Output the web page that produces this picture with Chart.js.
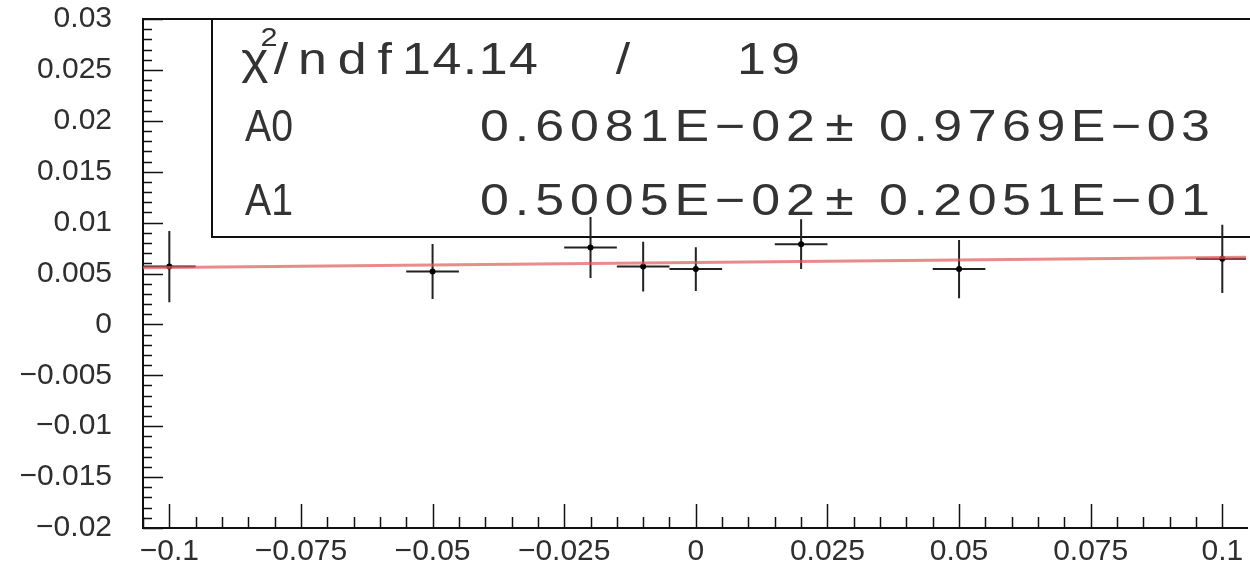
<!DOCTYPE html>
<html>
<head>
<meta charset="utf-8">
<script src="https://cdn.jsdelivr.net/npm/chart.js@4.4.1/dist/chart.umd.min.js"></script>
<style>
  html, body { margin: 0; padding: 0; background: #fff; }
</style>
</head>
<body>
<canvas id="fitChart" width="1250" height="571"></canvas>
<script>
// measured points (x, y) with errors
const xVals = [-0.1, -0.05, -0.02, -0.01, 0, 0.02, 0.05, 0.1];
const yVals = [0.00568, 0.00519, 0.00755, 0.00568, 0.00543, 0.00788, 0.00543, 0.00644];
const xErrs = [0.005, 0.005, 0.005, 0.005, 0.005, 0.005, 0.005, 0.005];
const yErrs = [0.0035, 0.0027, 0.0030, 0.00245, 0.00215, 0.00245, 0.00285, 0.00335];

// axis ticks
const xTicks = [-0.1, -0.075, -0.05, -0.025, 0, 0.025, 0.05, 0.075, 0.1];
const yTicks = [-0.02, -0.015, -0.01, -0.005, 0, 0.005, 0.01, 0.015, 0.02, 0.025, 0.03];
const xRange = [-0.105, 0.1045];
const yRange = [-0.02, 0.03];

// fit result (pol1)
const fitA0 = 0.6081e-2, fitA0err = 0.9769e-3;
const fitA1 = 0.5005e-2, fitA1err = 0.2051e-1;
const chi2 = '14.14', ndf = '19';
const parNames = ['A0', 'A1'];
const parVals = ['0.6081E\u221202', '0.5005E\u221202'];
const parErrs = ['0.9769E\u221203', '0.2051E\u221201'];

const fmt = v => String(Number(v.toFixed(4))).replace('-', '\u2212');

const points = xVals.map((x, i) => ({x: x, y: yVals[i]}));
const fitLine = xRange.map(x => ({x: x, y: fitA0 + fitA1 * x}));

// draws txt from x0 to x1: glyphs widened a bit, the rest goes into spacing
function spreadText(ctx, txt, x0, x1, base, sx = 1.18) {
  const chars = [...txt];
  const widths = chars.map(c => ctx.measureText(c).width);
  const total = widths.reduce((s, w) => s + w, 0) * sx;
  let gap = chars.length > 1 ? (x1 - x0 - total) / (chars.length - 1) : 0;
  if (gap < 0) { sx = sx * (x1 - x0) / total; gap = 0; }
  let cx = chars.length === 1 ? (x0 + x1 - total) / 2 : x0;
  chars.forEach((c, i) => {
    ctx.save();
    ctx.translate(cx, base);
    ctx.scale(sx, 1);
    ctx.fillText(c, 0, 0);
    ctx.restore();
    cx += widths[i] * sx + gap;
  });
}

const rootFrame = {
  id: 'rootFrame',
  beforeDatasetsDraw(chart) {
    const {ctx, chartArea: a, scales: {x, y}} = chart;
    ctx.save();
    ctx.strokeStyle = '#111';
    ctx.lineWidth = 2;

    // stats box
    ctx.strokeRect(212, a.top, 1100, 237 - a.top);
    ctx.fillStyle = '#333';
    ctx.textBaseline = 'alphabetic';
    ctx.font = '44px "Liberation Sans", Arial, sans-serif';
    spreadText(ctx, '\u03c7', 244, 266, 74);
    spreadText(ctx, '/', 270, 292, 74);
    spreadText(ctx, 'ndf', 298, 392, 74);
    spreadText(ctx, chi2, 402, 538, 74);
    spreadText(ctx, '/', 612, 634, 74);
    spreadText(ctx, ndf, 737, 800, 74);
    [141, 215].forEach((base, i) => {
      spreadText(ctx, parNames[i], 245, 293, base);
      spreadText(ctx, parVals[i], 480, 815, base);
      spreadText(ctx, '\u00b1', 822, 857, base);
      spreadText(ctx, parErrs[i], 879, 1210, base);
    });
    ctx.font = '26px "Liberation Sans", Arial, sans-serif';
    spreadText(ctx, '2', 262, 276, 46);

    // frame
    ctx.beginPath();
    ctx.moveTo(a.right + 2, a.top);
    ctx.lineTo(a.left, a.top);
    ctx.lineTo(a.left, a.bottom);
    ctx.lineTo(a.right + 2, a.bottom);
    ctx.stroke();

    // ticks pointing inward
    ctx.lineWidth = 1.5;
    ctx.beginPath();
    for (let k = -20; k <= 30; k++) {
      const py = Math.round(y.getPixelForValue(k * 0.001)) + 0.5;
      const len = k % 5 === 0 ? 20 : 9;
      ctx.moveTo(a.left, py);
      ctx.lineTo(a.left + len, py);
    }
    for (let k = -21; k <= 20; k++) {
      const px = Math.round(x.getPixelForValue(k * 0.005)) + 0.5;
      const len = k % 5 === 0 ? 24 : 11;
      ctx.moveTo(px, a.bottom);
      ctx.lineTo(px, a.bottom - len);
    }
    ctx.stroke();

    // error bars
    ctx.beginPath();
    ctx.rect(a.left, a.top - 30, a.right - a.left, a.bottom - a.top + 30);
    ctx.clip();
    ctx.strokeStyle = '#222';
    ctx.lineWidth = 2;
    ctx.beginPath();
    xVals.forEach((xv, i) => {
      const px = x.getPixelForValue(xv), py = y.getPixelForValue(yVals[i]);
      ctx.moveTo(x.getPixelForValue(xv - xErrs[i]), py);
      ctx.lineTo(x.getPixelForValue(xv + xErrs[i]), py);
      ctx.moveTo(px, y.getPixelForValue(yVals[i] + yErrs[i]));
      ctx.lineTo(px, y.getPixelForValue(yVals[i] - yErrs[i]));
    });
    ctx.stroke();
    ctx.restore();
  }
};

const noPad = s => { s.paddingTop = 0; s.paddingBottom = 0; s.paddingLeft = 0; s.paddingRight = 0; };

new Chart(document.getElementById('fitChart'), {
  type: 'scatter',
  data: {
    datasets: [
      {
        label: 'data',
        data: points,
        pointRadius: 3,
        pointBackgroundColor: '#000',
        pointBorderWidth: 0,
        order: 2
      },
      {
        label: 'pol1 fit',
        data: fitLine,
        showLine: true,
        borderColor: 'rgba(222, 90, 90, 0.7)',
        borderWidth: 3,
        pointRadius: 0,
        order: 1
      }
    ]
  },
  options: {
    responsive: false,
    animation: false,
    devicePixelRatio: 1,
    layout: { padding: { top: 19, left: 0, right: 0, bottom: 0 } },
    plugins: { legend: { display: false }, tooltip: { enabled: false } },
    scales: {
      x: {
        type: 'linear',
        min: xRange[0],
        max: xRange[1],
        grid: { display: false, drawTicks: false },
        border: { display: false },
        afterBuildTicks: s => { s.ticks = xTicks.map(v => ({value: v})); },
        afterFit: s => { s.height = 43; noPad(s); },
        ticks: {
          padding: 6,
          autoSkip: false,
          maxRotation: 0,
          color: '#2e2e2e',
          font: { family: '"Liberation Sans", Arial, sans-serif', size: 30 },
          callback: v => fmt(v)
        }
      },
      y: {
        min: yRange[0],
        max: yRange[1],
        grid: { display: false, drawTicks: false },
        border: { display: false },
        afterBuildTicks: s => { s.ticks = yTicks.map(v => ({value: v})); },
        afterFit: s => { s.width = 143; noPad(s); },
        ticks: {
          padding: 31,
          color: '#2e2e2e',
          font: { family: '"Liberation Sans", Arial, sans-serif', size: 30 },
          callback: v => fmt(v)
        }
      }
    }
  },
  plugins: [rootFrame]
});
</script>
</body>
</html>
